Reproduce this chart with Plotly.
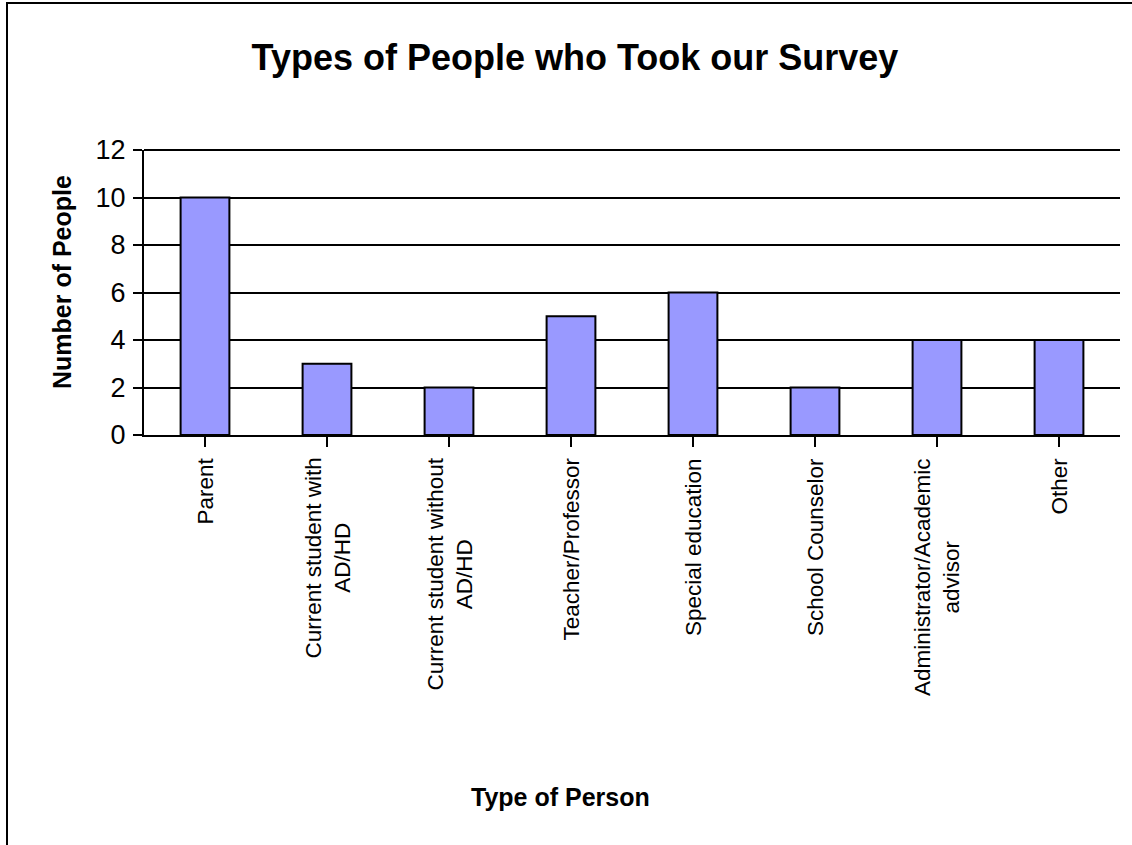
import plotly.graph_objects as go

categories = ["Parent", "Current student with<br>AD/HD", "Current student without<br>AD/HD",
              "Teacher/Professor", "Special education", "School Counselor",
              "Administrator/Academic<br>advisor", "Other"]
counts = [10, 3, 2, 5, 6, 2, 4, 4]
y_ticks = [0, 2, 4, 6, 8, 10, 12]

FONT = "Arial, Liberation Sans, sans-serif"
W, H = 1132, 845
L, R, T, B = 144, 12, 150, 410
plot_h = H - T - B
plot_w = W - L - R

fig = go.Figure(go.Bar(
    x=list(range(len(categories))), y=counts,
    marker=dict(color="#9999FF", line=dict(color="black", width=2)),
))

annotations = []
for i, c in enumerate(categories):
    annotations.append(dict(
        x=i, xref="x", y=-(456 - 435) / plot_h, yref="paper",
        text=c, showarrow=False, textangle=-90, xanchor="center", yanchor="top",
        align="center", font=dict(family=FONT, size=22.5, color="black"),
    ))
annotations.append(dict(
    x=(560 - L) / plot_w, xref="paper", y=-(797 - 435) / plot_h, yref="paper",
    text="<b>Type of Person</b>", showarrow=False, xanchor="center", yanchor="middle",
    font=dict(family=FONT, size=25, color="black")))
annotations.append(dict(
    x=(62 - L) / plot_w, xref="paper", y=(435 - 282) / plot_h, yref="paper",
    text="<b>Number of People</b>", showarrow=False, textangle=-90,
    xanchor="center", yanchor="middle", font=dict(family=FONT, size=25, color="black")))

fig.update_layout(
    width=W, height=H, margin=dict(l=L, r=R, t=T, b=B),
    paper_bgcolor="white", plot_bgcolor="white",
    showlegend=False, bargap=0.6,
    font=dict(family=FONT, color="black"),
    title=dict(text="<b>Types of People who Took our Survey</b>",
               x=575 / W, xanchor="center", y=1 - 57 / H, yanchor="middle",
               xref="container", yref="container",
               font=dict(family=FONT, size=36, color="black")),
    annotations=annotations,
    shapes=[
        dict(type="rect", xref="paper", yref="paper",
             x0=(7 - L) / plot_w, x1=1.2, y0=-2, y1=(435 - 3) / plot_h,
             line=dict(color="black", width=2)),
        dict(type="line", xref="paper", yref="paper", x0=0, x1=1, y0=1, y1=1,
             line=dict(color="black", width=2)),
    ],
)
fig.update_xaxes(
    range=[-0.5, len(categories) - 0.5], tickmode="array",
    tickvals=list(range(len(categories))), ticktext=[""] * len(categories),
    showticklabels=False, tickson="boundaries", ticks="outside", ticklen=10,
    tickwidth=2, tickcolor="black", showline=True, linecolor="black",
    linewidth=2, showgrid=False, zeroline=False,
)
fig.update_yaxes(
    range=[0, max(y_ticks)], tickvals=y_ticks, ticks="outside", ticklen=9, tickwidth=2,
    tickcolor="black", showline=True, linecolor="black", linewidth=2,
    showgrid=True, gridcolor="black", gridwidth=2, zeroline=False,
    tickfont=dict(family=FONT, size=27, color="black"), ticklabelstandoff=2,
)
fig.write_html("out.html")
